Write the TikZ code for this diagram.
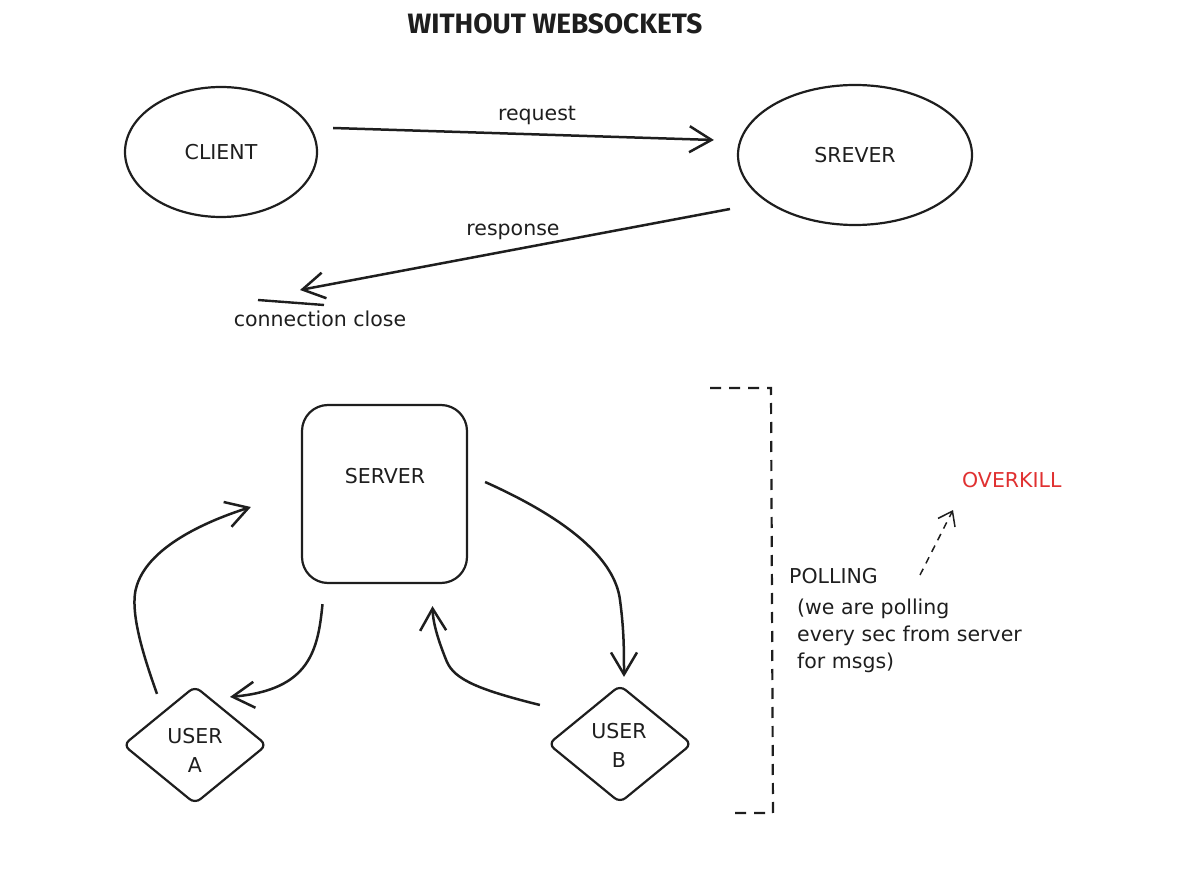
\documentclass[tikz,border=0pt]{standalone}
\usepackage{fontspec}
\setmainfont{DejaVu Sans}
\newfontfamily\titlefont{Fira Sans}
\usetikzlibrary{shapes.geometric,arrows.meta,calc}
\definecolor{ink}{HTML}{1E1E1E}
\definecolor{redink}{HTML}{E03131}
\begin{document}
\begin{tikzpicture}[x=1pt,y=-1pt,
  every node/.style={text=ink,font=\fontsize{20.5}{27}\selectfont},
  shapeline/.style={draw=ink,line width=2.2pt},
  blob/.style={shapeline,ellipse,inner sep=0pt},
  userbox/.style={shapeline,diamond,minimum width=144pt,minimum height=118pt,inner sep=0pt,rounded corners=7pt},
  conn/.style={draw=ink,line width=2.5pt,-{Straight Barb[length=22pt,width=26pt,line width=2.5pt]}},
  hint/.style={draw=ink,line width=1.5pt,dash pattern=on 7pt off 6pt,-{Straight Barb[length=13pt,width=19pt,line width=1.5pt]}},
  fence/.style={draw=ink,line width=2.2pt,dash pattern=on 11pt off 8pt},
  note/.style={anchor=west,inner sep=0pt}]
\useasboundingbox (0,0) rectangle (1200,877);

% title
\node (title) at (555,24) {\titlefont\bfseries\fontsize{28}{30}\selectfont WITHOUT WEBSOCKETS};

% top part
\node[blob,minimum width=192pt,minimum height=130pt] (client) at (221,152) {CLIENT};
\node[blob,minimum width=234pt,minimum height=140pt] (srever) at (855,155) {SREVER};
\coordinate (reqS) at ($(client.east)+(15,-24)$);
\coordinate (reqE) at ($(srever.west)+(-23,-15)$);
\draw[conn] (reqS) -- (reqE);
\node (reqlbl) at (537,115) {request};
\coordinate (resS) at (730,209);
\coordinate (resE) at (300,290);
\draw[conn] (resS) -- (resE);
\node (reslbl) at (513,232) {response};
\node (closelbl) at (320,319) {connection close};
\coordinate (barS) at (258,300);
\coordinate (barE) at (324,305);
\draw[draw=ink,line width=2.4pt] (barS) -- (barE);

% bottom part
\node[shapeline,rectangle,rounded corners=26pt,minimum width=165pt,minimum height=178pt] (server) at (384.5,494) {};
\node (servertext) at (385,476) {SERVER};
\node[userbox] (usera) at (195,745) {};
\node[align=center,font=\fontsize{20.5}{29}\selectfont] (useratext) at (195,750) {USER\\A};
\node[userbox] (userb) at (620,744) {};
\node[align=center,font=\fontsize{20.5}{29}\selectfont] (userbtext) at (619,745) {USER\\B};

\draw[conn] ($(usera.north)+(-38,9)$) .. controls (145,660) and (128,610) .. (137,585) .. controls (150,545) and (210,520) .. ($(server.west)+(-50,13)$);
\draw[conn] ($(server.south)+(-62,20)$) .. controls (318,650) and (310,690) .. ($(usera.north)+(35,12)$);
\draw[conn] ($(server.east)+(17,-12)$) .. controls (570,520) and (615,560) .. (620,600) .. controls (624,630) and (624,650) .. ($(userb.north)+(4,-7)$);
\draw[conn] ($(userb.west)+(-7,-39)$) .. controls (480,690) and (455,680) .. (447,662) .. controls (440,645) and (433,625) .. ($(server.south)+(48,22)$);

% polling bracket
\coordinate (fenceA) at (710,388);
\coordinate (fenceB) at (771,388);
\coordinate (fenceC) at (773,813);
\coordinate (fenceD) at (728,813);
\draw[fence] (fenceA) -- (fenceB) -- (fenceC) -- (fenceD);

\node[note] (polling) at (789,576) {POLLING};
\node[note,align=left] (pollnote) at (797,636) {(we are polling\\every sec from server\\for msgs)};
\node[note,text=redink] (overkill) at (962,480) {OVERKILL};
\coordinate (hintS) at (920,575);
\coordinate (hintE) at (953,510);
\draw[hint] (hintS) -- (hintE);
\end{tikzpicture}
\end{document}
